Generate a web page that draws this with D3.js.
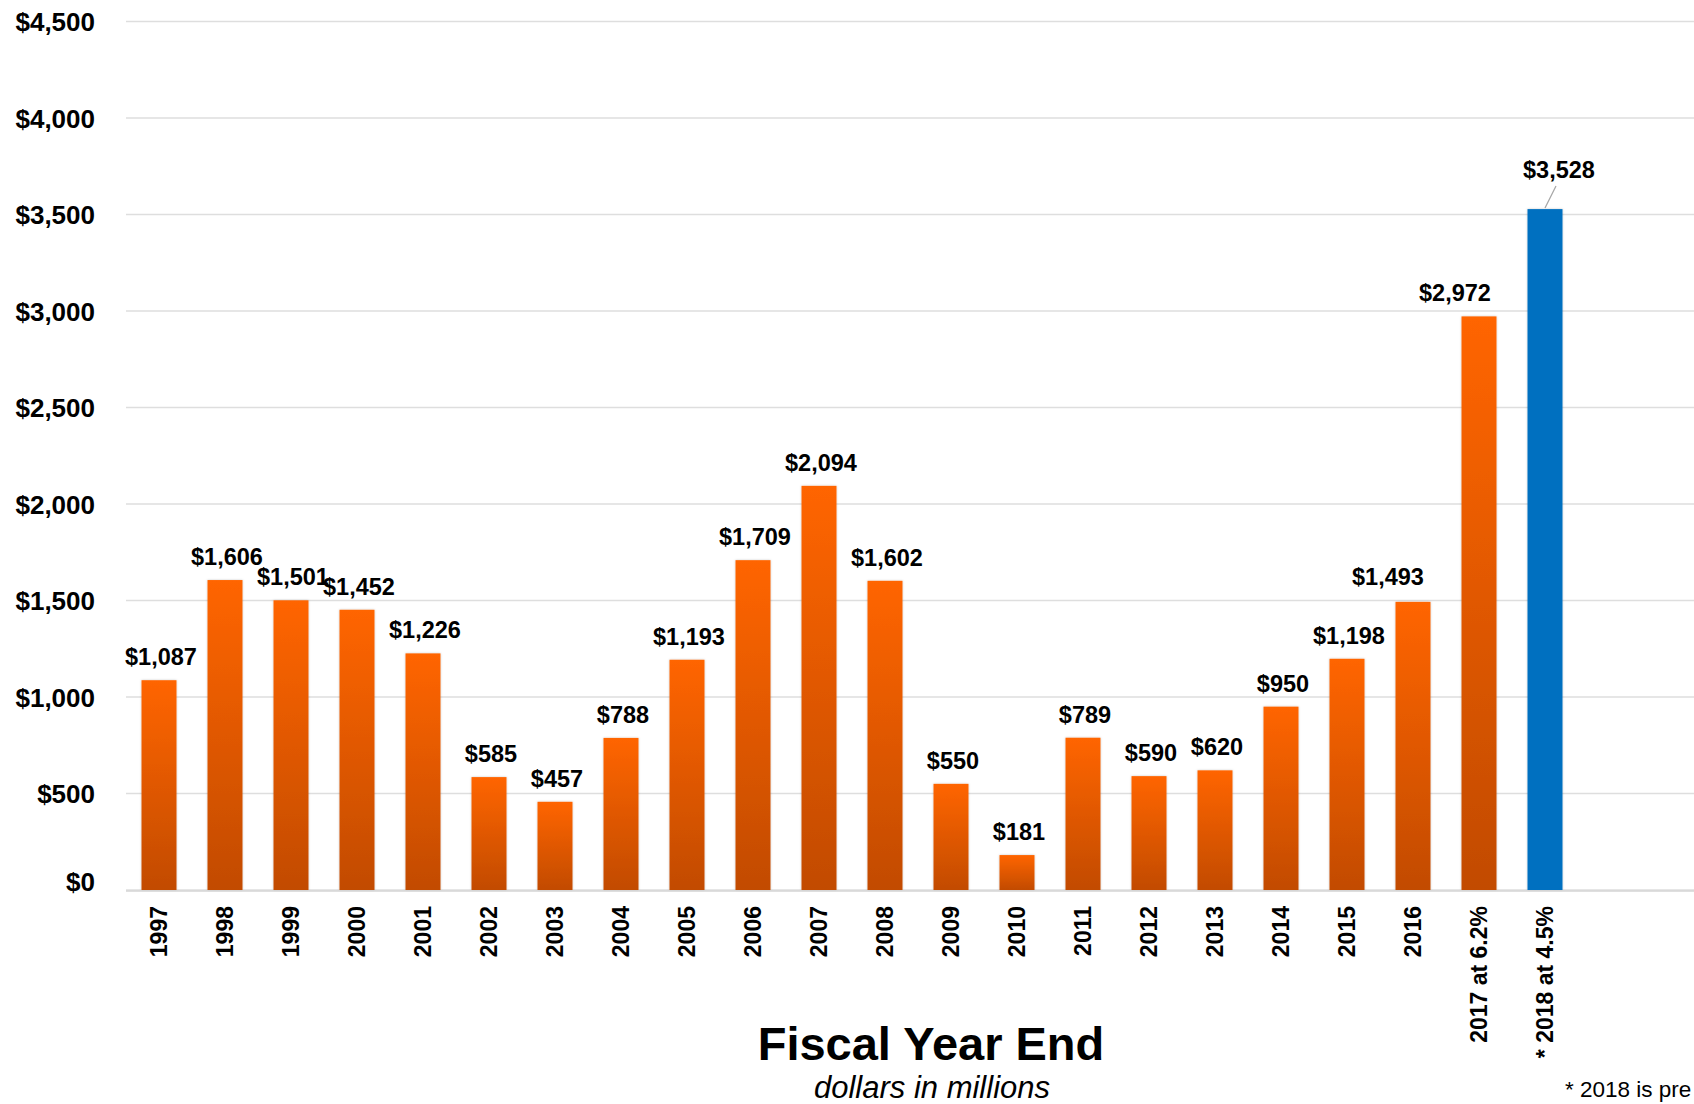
<!DOCTYPE html>
<html>
<head>
<meta charset="utf-8">
<script src="https://cdn.jsdelivr.net/npm/d3@7"></script>
<style>
  html, body { margin: 0; padding: 0; background: #fff; overflow: hidden; }
  svg { display: block; font-family: "Liberation Sans", Arial, sans-serif; }
</style>
</head>
<body>
<svg id="chart" width="1694" height="1104"></svg>
<script>
// ---- data ----
const categories = ["1997","1998","1999","2000","2001","2002","2003","2004","2005","2006",
  "2007","2008","2009","2010","2011","2012","2013","2014","2015","2016","2017 at 6.2%","* 2018 at 4.5%"];
const values = [1087,1606,1501,1452,1226,585,457,788,1193,1709,2094,1602,550,181,789,590,620,950,1198,1493,2972,3528];
const yTicks = [0,500,1000,1500,2000,2500,3000,3500,4000,4500];
const projectedCategory = "* 2018 at 4.5%";
const axisTitle = "Fiscal Year End";
const axisSubtitle = "dollars in millions";
const footnote = "* 2018 is pre";

// ---- layout ----
const W = 1694, H = 1104;
const plotLeft = 126, plotRight = 1578, gridRight = 1694;
const yTop = 21.5, yBottom = 890;

const svg = d3.select("#chart");
const defs = svg.append("defs");
const grad = defs.append("linearGradient").attr("id","orangeGrad")
  .attr("x1",0).attr("y1",0).attr("x2",0).attr("y2",1);
grad.append("stop").attr("offset","0%").attr("stop-color","#ff6500");
grad.append("stop").attr("offset","100%").attr("stop-color","#c24b00");
const shadow = defs.append("filter").attr("id","shadow")
  .attr("x","-20%").attr("y","-5%").attr("width","140%").attr("height","110%");
shadow.append("feDropShadow").attr("dx",0).attr("dy",0).attr("stdDeviation",1.2)
  .attr("flood-color","#000").attr("flood-opacity",0.22);

const x = d3.scaleBand().domain(categories).range([plotLeft, plotRight])
  .paddingInner(0.47).paddingOuter(0.235);
const y = d3.scaleLinear().domain([0,4500]).range([yBottom, yTop]);

// gridlines
svg.append("g").selectAll("line").data(yTicks).join("line")
  .attr("x1", plotLeft).attr("x2", gridRight)
  .attr("y1", d => y(d)).attr("y2", d => y(d))
  .attr("stroke", "#dedede").attr("stroke-width", 1.6);

// y axis labels via d3 axis
const yAxis = svg.append("g").attr("transform", `translate(${plotLeft},0)`)
  .call(d3.axisLeft(y).tickValues(yTicks).tickSize(0).tickPadding(31)
    .tickFormat(d => "$" + d3.format(",")(d)));
yAxis.select(".domain").remove();
yAxis.selectAll("text")
  .attr("font-size", 26).attr("font-weight", "bold").attr("fill", "#000")
  .attr("font-family", "'Liberation Sans', Arial, sans-serif")
  .attr("dy", d => d === 0 ? "-0.0em" : "0.35em");

// bars
const data = categories.map((c, i) => ({ c, v: values[i] }));
svg.append("g").selectAll("rect").data(data).join("rect")
  .attr("x", d => x(d.c)).attr("width", x.bandwidth())
  .attr("y", d => y(d.v)).attr("height", d => y(0) - y(d.v))
  .attr("fill", d => d.c === projectedCategory ? "#0070c0" : "url(#orangeGrad)")
  .attr("filter", "url(#shadow)");

// baseline
svg.append("line").attr("x1", plotLeft).attr("x2", gridRight)
  .attr("y1", y(0)+1).attr("y2", y(0)+1).attr("stroke", "#d4d4d4").attr("stroke-width", 1.6);

// value labels (with a few manual nudges as in the original)
const nudge = { "2016": [-25, -2], "2017 at 6.2%": [-24, 0], "* 2018 at 4.5%": [14, -16] };
const lbl = svg.append("g");
data.forEach(d => {
  const [dx, dy] = nudge[d.c] || [2, 0];
  const cx = x(d.c) + x.bandwidth()/2;
  const ty = y(d.v) - 15 + dy;
  if (d.c === projectedCategory) {
    lbl.append("line").attr("x1", cx).attr("y1", y(d.v) - 1)
      .attr("x2", cx + 11).attr("y2", ty + 8)
      .attr("stroke", "#a6a6a6").attr("stroke-width", 1.2);
  }
  lbl.append("text").attr("x", cx + dx).attr("y", ty)
    .attr("text-anchor", "middle").attr("font-size", 23.5).attr("font-weight", "bold")
    .attr("fill", "#000").text("$" + d3.format(",")(d.v));
});

// x axis labels via d3 axis, rotated
const xAxis = svg.append("g").attr("transform", `translate(0,${yBottom})`)
  .call(d3.axisBottom(x).tickSize(0).tickPadding(0));
xAxis.select(".domain").remove();
xAxis.selectAll("text")
  .attr("font-size", 23).attr("font-weight", "bold").attr("fill", "#000")
  .attr("font-family", "'Liberation Sans', Arial, sans-serif")
  .attr("text-anchor", "end")
  .attr("transform", "rotate(-90)")
  .attr("x", -16).attr("y", 0).attr("dy", "0.35em");

// axis title
svg.append("text").attr("x", 931).attr("y", 1060).attr("text-anchor", "middle")
  .attr("font-size", 47).attr("font-weight", "bold").attr("fill", "#000").text(axisTitle);
svg.append("text").attr("x", 932).attr("y", 1098).attr("text-anchor", "middle")
  .attr("font-size", 31).attr("font-style", "italic").attr("fill", "#000").text(axisSubtitle);

// footnote (cut at the edge in the original; only the visible part is kept)
svg.append("text").attr("x", 1565).attr("y", 1097)
  .attr("font-size", 22.5).attr("fill", "#000").text(footnote);
</script>
</body>
</html>
